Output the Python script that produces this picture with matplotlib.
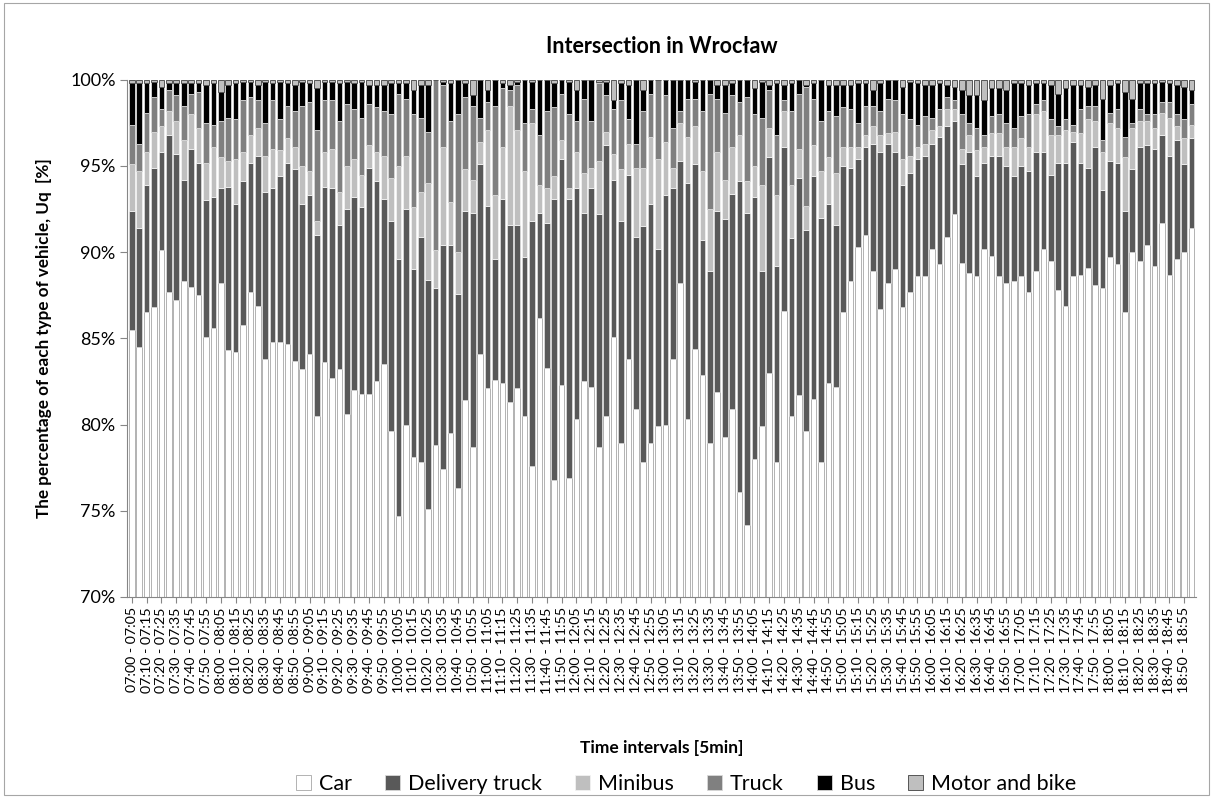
import numpy as np
import matplotlib.pyplot as plt
from matplotlib.ticker import PercentFormatter
from matplotlib.patches import Rectangle

plt.rcParams['font.family'] = ['Lato', 'DejaVu Sans']

# shares of each vehicle type [%], 5-minute intervals 07:00 - 19:00
car = [85.5, 84.5, 86.5, 86.8, 90.1, 87.7, 87.2, 88.3, 88.0, 87.5, 85.1, 85.6,
       88.2, 84.3, 84.2, 85.8, 87.7, 86.9, 83.8, 84.8, 84.8, 84.7, 83.7, 83.2,
       84.1, 80.5, 83.6, 82.7, 83.2, 80.6, 82.0, 81.8, 81.8, 82.5, 83.5, 79.6,
       74.7, 80.0, 78.1, 77.8, 75.1, 78.8, 77.4, 79.5, 76.3, 81.4, 78.7, 84.1,
       82.1, 82.6, 82.4, 81.3, 82.1, 80.5, 77.6, 86.2, 83.3, 76.8, 82.3, 76.9,
       80.3, 82.5, 82.2, 78.7, 80.5, 85.1, 78.9, 83.8, 80.9, 77.8, 78.9, 79.9,
       80.0, 83.8, 88.2, 80.3, 84.4, 82.9, 78.9, 81.9, 79.3, 80.9, 76.1, 74.2,
       78.0, 79.9, 83.0, 77.8, 86.6, 80.5, 81.7, 79.6, 81.5, 77.8, 82.4, 82.2,
       86.5, 88.3, 90.3, 91.0, 88.9, 86.7, 88.2, 89.0, 86.8, 87.7, 88.6, 88.6,
       90.2, 89.3, 90.9, 92.2, 89.4, 88.8, 88.6, 90.2, 89.8, 88.6, 88.2, 88.3,
       88.6, 87.7, 88.9, 90.2, 89.5, 87.8, 86.9, 88.6, 88.7, 89.1, 88.1, 87.9,
       89.7, 89.3, 86.5, 90.0, 89.5, 90.4, 89.2, 91.7, 88.7, 89.6, 90.0, 91.4]

delivery = [6.9, 6.9, 7.4, 8.1, 5.7, 9.1, 8.5, 5.9, 8.0, 7.7, 7.9, 7.6,
            5.5, 9.5, 8.6, 8.3, 7.5, 8.7, 9.7, 8.9, 9.6, 10.5, 11.1, 9.6,
            9.2, 10.5, 10.2, 11.0, 8.4, 11.9, 11.2, 10.8, 13.1, 11.6, 9.6, 12.2,
            14.9, 12.5, 10.9, 13.1, 13.3, 9.1, 13.0, 10.9, 11.3, 11.0, 13.6, 11.0,
            10.6, 7.0, 10.7, 10.3, 9.5, 9.2, 14.2, 6.1, 8.4, 16.3, 13.1, 16.2,
            13.4, 9.8, 11.5, 13.5, 15.7, 9.1, 12.9, 10.7, 10.0, 13.7, 13.9, 10.3,
            13.3, 9.9, 7.1, 13.7, 10.7, 7.8, 10.0, 10.5, 12.6, 12.5, 18.0, 18.1,
            15.2, 9.0, 12.5, 11.4, 9.5, 10.3, 12.6, 11.7, 12.9, 14.2, 10.4, 9.4,
            8.5, 6.6, 5.1, 5.1, 7.4, 9.1, 8.1, 6.8, 7.1, 6.9, 6.8, 7.0,
            6.1, 7.4, 6.4, 5.4, 5.7, 7.0, 5.8, 5.0, 5.8, 7.0, 6.8, 6.1,
            6.4, 7.0, 6.9, 5.6, 5.0, 7.4, 8.3, 7.8, 6.5, 5.8, 8.0, 5.7,
            5.6, 5.9, 5.9, 4.8, 6.6, 5.8, 6.8, 5.1, 6.9, 6.9, 5.1, 5.2]

minibus = [2.7, 3.3, 1.9, 2.1, 1.5, 1.4, 1.9, 2.3, 2.0, 2.0, 2.2, 2.9,
           1.8, 1.5, 2.6, 1.7, 1.6, 1.6, 2.1, 2.3, 1.5, 1.4, 1.3, 2.2,
           1.4, 0.8, 2.0, 2.3, 1.9, 2.5, 2.2, 1.9, 1.3, 1.7, 2.5, 2.5,
           5.4, 3.1, 3.6, 2.6, 5.6, 2.2, 5.7, 2.5, 2.4, 2.4, 1.9, 1.3,
           4.4, 3.7, 3.0, 6.9, 5.5, 5.0, 5.7, 1.6, 2.0, 1.3, 1.1, 0.6,
           2.1, 2.3, 1.2, 3.1, 0.8, 1.5, 3.0, 1.8, 4.0, 3.4, 3.9, 5.2,
           3.1, 1.2, 2.2, 2.7, 2.2, 4.0, 3.6, 3.4, 2.3, 2.7, 2.7, 1.8,
           1.8, 5.0, 1.7, 4.1, 2.1, 3.1, 1.7, 1.4, 1.8, 2.7, 2.7, 3.0,
           1.1, 1.2, 0.7, 0.7, 1.0, 1.0, 0.6, 1.2, 1.5, 1.0, 0.7, 0.7,
           0.8, 0.6, 1.0, 0.7, 0.9, 1.0, 1.5, 0.9, 1.3, 1.3, 1.1, 1.7,
           1.6, 1.4, 2.2, 2.4, 2.3, 1.6, 1.9, 0.6, 1.7, 2.8, 1.5, 2.2,
           2.2, 2.0, 3.1, 2.4, 1.5, 1.4, 1.2, 1.3, 2.2, 0.8, 1.5, 0.8]

truck = [2.3, 1.6, 2.3, 2.0, 1.0, 1.2, 1.5, 2.0, 1.2, 2.1, 2.3, 1.3,
         2.1, 2.5, 2.3, 3.0, 2.2, 1.6, 1.9, 2.8, 1.8, 1.9, 2.1, 3.5,
         4.0, 5.3, 3.0, 2.8, 4.1, 3.6, 2.9, 3.3, 2.4, 2.6, 2.6, 3.7,
         4.2, 3.3, 5.4, 4.3, 3.0, 9.9, 3.6, 4.7, 8.0, 4.2, 4.3, 1.4,
         1.6, 5.2, 3.4, 0.9, 2.6, 2.8, 0.8, 2.9, 4.5, 4.0, 2.7, 4.3,
         1.8, 4.3, 2.7, 4.5, 2.1, 2.6, 4.0, 1.4, 1.4, 3.3, 2.5, 4.6,
         2.7, 2.3, 0.7, 2.2, 1.6, 3.5, 6.7, 3.1, 3.9, 3.0, 1.9, 4.9,
         3.0, 3.9, 2.2, 3.5, 0.6, 4.3, 3.2, 6.9, 2.7, 2.9, 2.7, 3.3,
         2.3, 2.2, 1.4, 1.7, 1.2, 1.4, 2.0, 1.8, 2.6, 2.1, 1.3, 1.6,
         0.7, 1.0, 0.7, 0.5, 2.0, 0.7, 1.3, 0.7, 1.0, 1.1, 1.4, 1.1,
         1.3, 1.9, 0.6, 0.6, 0.9, 0.5, 0.6, 0.4, 1.4, 0.8, 0.9, 0.7,
         0.6, 1.1, 1.2, 0.3, 0.7, 0.4, 0.8, 0.6, 0.9, 0.7, 1.1, 1.2]

bus = [2.4, 3.5, 1.7, 0.9, 1.3, 0.4, 0.7, 1.3, 0.6, 0.5, 2.2, 2.4,
       1.7, 1.9, 2.1, 1.1, 0.9, 0.9, 2.4, 1.0, 2.2, 1.3, 1.5, 1.4,
       1.1, 2.4, 1.1, 1.1, 2.2, 1.3, 1.5, 2.1, 1.1, 1.3, 1.5, 1.8,
       0.6, 0.9, 1.4, 1.9, 2.7, 0.0, 0.2, 2.2, 2.0, 0.8, 0.6, 2.2,
       0.7, 1.5, 0.3, 0.3, 0.2, 2.5, 1.6, 3.2, 1.8, 1.4, 0.8, 1.9,
       1.8, 1.1, 2.4, 0.1, 0.8, 0.5, 1.0, 2.0, 3.7, 1.2, 0.8, 0.0,
       0.9, 2.8, 1.8, 1.1, 1.0, 1.8, 0.8, 0.8, 1.6, 0.7, 1.3, 1.0,
       1.5, 2.1, 0.3, 3.0, 0.9, 1.6, 0.8, 0.1, 0.9, 2.4, 1.5, 1.8,
       1.3, 1.4, 2.3, 1.3, 0.9, 1.6, 1.1, 1.2, 1.6, 2.2, 2.4, 1.8,
       1.9, 1.5, 0.7, 0.8, 1.4, 1.6, 1.9, 2.0, 1.6, 1.5, 1.9, 2.6,
       1.9, 1.7, 1.2, 1.0, 2.0, 1.9, 1.8, 2.3, 1.4, 1.1, 1.2, 2.4,
       1.6, 1.5, 2.6, 1.4, 1.5, 1.8, 1.8, 1.2, 1.1, 1.7, 1.9, 0.8]

motor = [0.2, 0.2, 0.2, 0.1, 0.4, 0.2, 0.2, 0.2, 0.2, 0.2, 0.3, 0.2,
         0.7, 0.3, 0.2, 0.1, 0.1, 0.3, 0.1, 0.2, 0.1, 0.2, 0.3, 0.1,
         0.2, 0.5, 0.1, 0.1, 0.2, 0.1, 0.2, 0.1, 0.3, 0.3, 0.3, 0.2,
         0.2, 0.2, 0.6, 0.3, 0.3, 0.0, 0.1, 0.2, 0.0, 0.2, 0.9, 0.0,
         0.6, 0.0, 0.2, 0.3, 0.1, 0.0, 0.1, 0.0, 0.0, 0.2, 0.0, 0.1,
         0.6, 0.0, 0.0, 0.1, 0.1, 1.2, 0.2, 0.3, 0.0, 0.6, 0.0, 0.0,
         0.0, 0.0, 0.0, 0.0, 0.1, 0.0, 0.0, 0.3, 0.3, 0.2, 0.0, 0.0,
         0.5, 0.1, 0.3, 0.2, 0.3, 0.2, 0.0, 0.3, 0.2, 0.0, 0.3, 0.3,
         0.3, 0.3, 0.2, 0.2, 0.6, 0.2, 0.0, 0.0, 0.4, 0.1, 0.2, 0.3,
         0.3, 0.2, 0.3, 0.4, 0.6, 0.9, 0.9, 1.2, 0.5, 0.5, 0.6, 0.2,
         0.2, 0.3, 0.2, 0.2, 0.3, 0.8, 0.5, 0.3, 0.3, 0.4, 0.3, 1.1,
         0.3, 0.2, 0.7, 1.1, 0.2, 0.2, 0.2, 0.1, 0.2, 0.3, 0.4, 0.6]

series_names = ['Car', 'Delivery truck', 'Minibus', 'Truck', 'Bus', 'Motor and bike']

# interval labels, only every second one is shown on the axis
starts = [7 * 60 + 5 * i for i in range(len(car))]
interval_labels = ['%02d:%02d - %02d:%02d' % (s // 60, s % 60, (s + 5) // 60, (s + 5) % 60)
                   for s in starts]

fig = plt.figure(figsize=(12.13, 7.98), dpi=100)
ax = fig.add_axes([0.105, 0.252, 0.881, 0.648])

x = np.arange(len(car))
width = 0.76
styles = [('white', '#A6A6A6'), ('#595959', '#D9D9D9'), ('#BFBFBF', '#F2F2F2'),
          ('#808080', '#D9D9D9'), ('black', '#D9D9D9'), ('#BFBFBF', '#404040')]

bottom = np.zeros(len(car))
for vals, name, (fc, ec) in zip([car, delivery, minibus, truck, bus, motor], series_names, styles):
    ax.bar(x, vals, width, bottom=bottom, color=fc, edgecolor=ec, linewidth=0.6, label=name)
    bottom += np.array(vals)

ax.set_ylim(70, 100)
ax.set_xlim(-0.6, len(car) - 0.4)
ax.set_yticks(np.arange(70, 101, 5))
ax.yaxis.set_major_formatter(PercentFormatter(decimals=0))
ax.set_xticks(x[::2])
ax.set_xticklabels(interval_labels[::2], rotation=90, fontsize=10.3)
ax.tick_params(axis='y', labelsize=13, color='#868686', length=5)
ax.tick_params(axis='x', color='#868686', length=4)

for side in ['top', 'right']:
    ax.spines[side].set_visible(False)
ax.spines['left'].set_color('#868686')
ax.spines['bottom'].set_color('#868686')

ax.set_title('Intersection in Wrocław', fontsize=15.5, fontweight='bold', pad=19)
ax.set_ylabel('The percentage of each type of vehicle, Uq  [%]', fontsize=12.3,
              fontweight='bold', labelpad=13)
ax.set_xlabel('Time intervals [5min]', fontsize=12.5, fontweight='bold', labelpad=33)

ax.legend(loc='center', bbox_to_anchor=(0.523, -0.362), ncol=6, frameon=False,
          fontsize=15.5, handlelength=0.7, handleheight=0.7, handletextpad=0.35,
          columnspacing=1.55)

# thin border round the whole chart
fig.patches.append(Rectangle((0.003, 0.004), 0.994, 0.992, transform=fig.transFigure,
                             fill=False, edgecolor='#A6A6A6', linewidth=0.8))

plt.savefig('out.png', dpi=100, facecolor='white')
